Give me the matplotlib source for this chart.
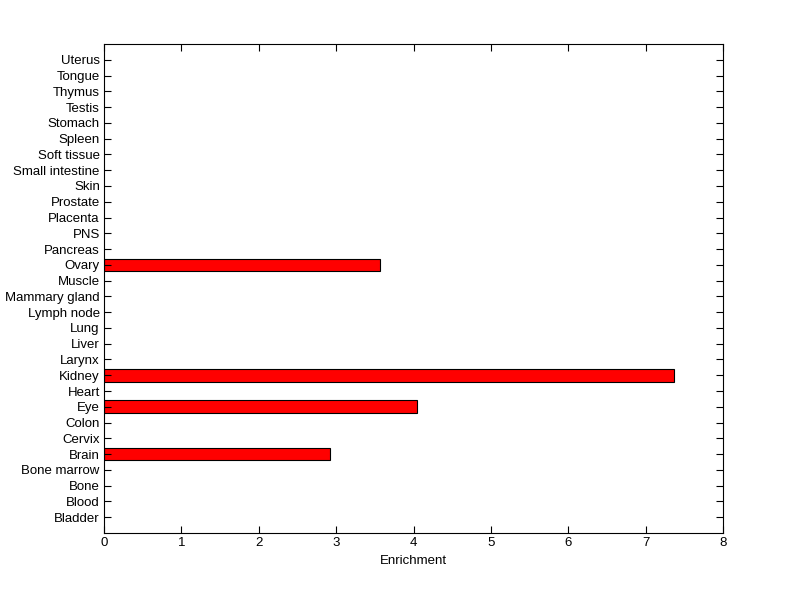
import matplotlib
matplotlib.use('Agg')
import matplotlib.pyplot as plt

tissues = ['Bladder', 'Blood', 'Bone', 'Bone marrow', 'Brain', 'Cervix', 'Colon',
           'Eye', 'Heart', 'Kidney', 'Larynx', 'Liver', 'Lung', 'Lymph node',
           'Mammary gland', 'Muscle', 'Ovary', 'Pancreas', 'PNS', 'Placenta',
           'Prostate', 'Skin', 'Small intestine', 'Soft tissue', 'Spleen',
           'Stomach', 'Testis', 'Thymus', 'Tongue', 'Uterus']
enrichment = [0, 0, 0, 0, 2.92, 0, 0, 4.04, 0, 7.37, 0, 0, 0, 0, 0, 0, 3.57,
              0, 0, 0, 0, 0, 0, 0, 0, 0, 0, 0, 0, 0]

plt.rcParams['font.family'] = ['Liberation Sans', 'DejaVu Sans']

fig = plt.figure(figsize=(8.0, 5.99), dpi=100)
ax = fig.add_axes([104/800, 1 - 533/599, (723-104)/800, (533-44)/599])

pos = list(range(1, len(tissues) + 1))
vals = [v if v > 0 else float('nan') for v in enrichment]
ax.barh(pos, vals, height=0.8, color='#ff0000', edgecolor='black', linewidth=0.8)

ax.set_xlim(0, 8)
ax.set_ylim(0, len(tissues) + 1)
ax.set_xticks(range(0, 9))
ax.set_yticks(pos)
ax.set_yticklabels(tissues)
ax.set_xlabel('Enrichment', fontsize=9.5, labelpad=4)
ax.tick_params(direction='in', length=5, width=0.8, labelsize=9.5,
               top=True, right=True, pad=3)
for s in ax.spines.values():
    s.set_linewidth(0.8)

fig.savefig('out.png', dpi=100)
